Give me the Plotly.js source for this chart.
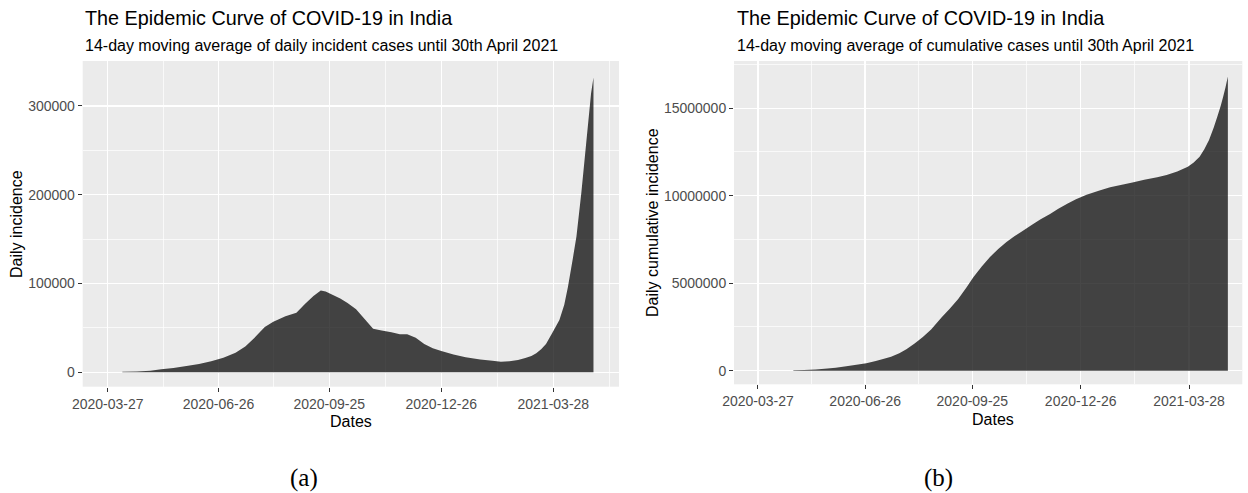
<!DOCTYPE html>
<html>
<head>
<meta charset="utf-8">
<script src="https://cdn.plot.ly/plotly-3.0.1.min.js"></script>
<style>html,body{margin:0;padding:0;background:#fff;}#chart{width:1248px;height:493px;}</style>
</head>
<body>
<div id="chart"></div>
<script>
// ---- data ----
const incDates = ['2020-04-08','2020-04-20','2020-05-01','2020-05-10','2020-05-20','2020-06-01','2020-06-10','2020-06-20','2020-06-30','2020-07-10','2020-07-18','2020-07-25','2020-08-03','2020-08-10','2020-08-20','2020-08-29','2020-09-05','2020-09-12','2020-09-18','2020-09-22','2020-09-28','2020-10-04','2020-10-10','2020-10-17','2020-10-24','2020-10-31','2020-11-07','2020-11-15','2020-11-22','2020-11-28','2020-12-05','2020-12-12','2020-12-19','2020-12-26','2021-01-05','2021-01-15','2021-01-27','2021-02-06','2021-02-13','2021-02-20','2021-02-27','2021-03-05','2021-03-10','2021-03-14','2021-03-18','2021-03-22','2021-03-27','2021-04-02','2021-04-06','2021-04-09','2021-04-13','2021-04-16','2021-04-20','2021-04-24','2021-04-28','2021-04-30'];
const incValues = [500,1000,1800,3500,5000,7500,9500,12500,16500,22000,29000,38000,51000,57000,63000,67000,77000,86000,92000,91000,87000,83000,78000,71000,60000,49000,47000,45000,43000,43000,39000,32000,27000,24000,20000,17000,14500,13000,12000,12500,14000,16000,18500,21500,26000,32000,44000,59000,76000,96000,128000,153000,202000,258000,314000,332000];

const cumDates = ['2020-04-26','2020-05-05','2020-05-15','2020-05-25','2020-06-01','2020-06-10','2020-06-20','2020-06-27','2020-07-05','2020-07-12','2020-07-18','2020-07-25','2020-07-31','2020-08-07','2020-08-14','2020-08-21','2020-08-30','2020-09-06','2020-09-13','2020-09-20','2020-09-26','2020-10-03','2020-10-10','2020-10-17','2020-10-24','2020-10-31','2020-11-07','2020-11-15','2020-11-22','2020-11-30','2020-12-07','2020-12-15','2020-12-22','2020-12-31','2021-01-11','2021-01-20','2021-02-01','2021-02-08','2021-02-18','2021-03-01','2021-03-09','2021-03-18','2021-03-27','2021-04-01','2021-04-06','2021-04-10','2021-04-14','2021-04-18','2021-04-21','2021-04-24','2021-04-26','2021-04-28','2021-04-30'];
const cumValues = [20000,40000,70000,120000,170000,250000,350000,430000,550000,680000,800000,1000000,1220000,1550000,1920000,2350000,3050000,3550000,4100000,4750000,5350000,5950000,6500000,6950000,7350000,7700000,8000000,8350000,8650000,8950000,9250000,9550000,9800000,10050000,10300000,10480000,10650000,10750000,10920000,11050000,11190000,11380000,11660000,11900000,12230000,12650000,13190000,13900000,14520000,15150000,15660000,16200000,16810000];

const xTickVals = ['2020-03-27','2020-06-26','2020-09-25','2020-12-26','2021-03-28'];
const xTickText = ['2020-03-27','2020-06-26','2020-09-25','2020-12-26','2021-03-28'];
const xMinorVals = ['2020-02-10 12:00','2020-05-11 12:00','2020-08-10 12:00','2020-11-10','2021-02-10','2021-05-13'];
const incTickVals = [0,100000,200000,300000];
const incTickText = ['0','100000','200000','300000'];
const incMinorVals = [50000,150000,250000,350000];
const cumTickVals = [0,5000000,10000000,15000000];
const cumTickText = ['0','5000000','10000000','15000000'];
const cumMinorVals = [2500000,7500000,12500000,17500000];

const titleText = 'The Epidemic Curve of COVID-19 in India';
const subA = '14-day moving average of daily incident cases until 30th April 2021';
const subB = '14-day moving average of cumulative cases until 30th April 2021';

// ---- drawing ----
const W = 1248, H = 493;
const px = v => v / W;
const py = v => 1 - v / H;
const FONT = 'Liberation Sans, Arial, sans-serif';
const fill = 'rgba(0,0,0,0.72)';

const traces = [
  {type:'scatter', mode:'none', x:incDates, y:incValues, fill:'tozeroy', fillcolor:fill, xaxis:'x', yaxis:'y', hoverinfo:'skip'},
  {type:'scatter', mode:'none', x:cumDates, y:cumValues, fill:'tozeroy', fillcolor:fill, xaxis:'x2', yaxis:'y2', hoverinfo:'skip'}
];

function xax(domain, range){
  return {domain:domain, type:'date', range:range, tickmode:'array', tickvals:xTickVals, ticktext:xTickText,
    ticks:'outside', ticklen:4, tickwidth:1, tickcolor:'#333333', tickfont:{family:FONT, size:14, color:'#4D4D4D'},
    showgrid:true, gridcolor:'#FFFFFF', gridwidth:1.4, zeroline:false, showline:false, fixedrange:true,
    minor:{tickmode:'array', tickvals:xMinorVals, showgrid:true, gridcolor:'#FFFFFF', gridwidth:0.7, ticks:''}};
}
function yax(domain, range, tv, tt, mv, anchor){
  return {domain:domain, anchor:anchor, range:range, tickmode:'array', tickvals:tv, ticktext:tt,
    ticks:'outside', ticklen:4, tickwidth:1, tickcolor:'#333333', tickfont:{family:FONT, size:14, color:'#4D4D4D'},
    showgrid:true, gridcolor:'#FFFFFF', gridwidth:1.4, zeroline:false, showline:false, fixedrange:true,
    minor:{tickmode:'array', tickvals:mv, showgrid:true, gridcolor:'#FFFFFF', gridwidth:0.7, ticks:''}};
}

const layout = {
  width:W, height:H, margin:{l:0,r:0,t:0,b:0}, paper_bgcolor:'#FFFFFF', plot_bgcolor:'#EBEBEB',
  showlegend:false, hovermode:false, font:{family:FONT},
  xaxis: Object.assign(xax([px(82.7), px(619)], ['2020-03-06 11:00','2021-05-20 23:00']), {anchor:'y'}),
  yaxis: yax([1-386.7/H, 1-61/H], [-16200, 350600], incTickVals, incTickText, incMinorVals, 'x'),
  xaxis2: Object.assign(xax([px(734), px(1242.3)], ['2020-03-06 15:00','2021-05-12 06:00']), {anchor:'y2'}),
  yaxis2: yax([1-384.3/H, 1-61/H], [-777000, 17700000], cumTickVals, cumTickText, cumMinorVals, 'x2'),
  annotations: [
    {text:titleText, xref:'paper', yref:'paper', x:px(83), y:py(18.5), xanchor:'left', yanchor:'middle', showarrow:false, font:{family:FONT, size:19.8, color:'#000'}},
    {text:subA, xref:'paper', yref:'paper', x:px(83), y:py(46), xanchor:'left', yanchor:'middle', showarrow:false, font:{family:FONT, size:16, color:'#000'}},
    {text:titleText, xref:'paper', yref:'paper', x:px(734.5), y:py(18.5), xanchor:'left', yanchor:'middle', showarrow:false, font:{family:FONT, size:19.8, color:'#000'}},
    {text:subB, xref:'paper', yref:'paper', x:px(734.5), y:py(46), xanchor:'left', yanchor:'middle', showarrow:false, font:{family:FONT, size:16, color:'#000'}},
    {text:'Dates', xref:'paper', yref:'paper', x:px(350.5), y:py(421), xanchor:'center', yanchor:'middle', showarrow:false, font:{family:FONT, size:16, color:'#000'}},
    {text:'Dates', xref:'paper', yref:'paper', x:px(993), y:py(419), xanchor:'center', yanchor:'middle', showarrow:false, font:{family:FONT, size:16, color:'#000'}},
    {text:'Daily incidence', xref:'paper', yref:'paper', x:px(16), y:py(224), xanchor:'center', yanchor:'middle', textangle:-90, showarrow:false, font:{family:FONT, size:16, color:'#000'}},
    {text:'Daily cumulative incidence', xref:'paper', yref:'paper', x:px(653), y:py(223), xanchor:'center', yanchor:'middle', textangle:-90, showarrow:false, font:{family:FONT, size:16, color:'#000'}},
    {text:'(a)', xref:'paper', yref:'paper', x:px(304), y:py(478), xanchor:'center', yanchor:'middle', showarrow:false, font:{family:'Liberation Serif, Times New Roman, serif', size:25, color:'#000'}},
    {text:'(b)', xref:'paper', yref:'paper', x:px(938), y:py(478), xanchor:'center', yanchor:'middle', showarrow:false, font:{family:'Liberation Serif, Times New Roman, serif', size:25, color:'#000'}}
  ]
};

Plotly.newPlot('chart', traces, layout, {displayModeBar:false, staticPlot:true});
</script>
</body>
</html>
